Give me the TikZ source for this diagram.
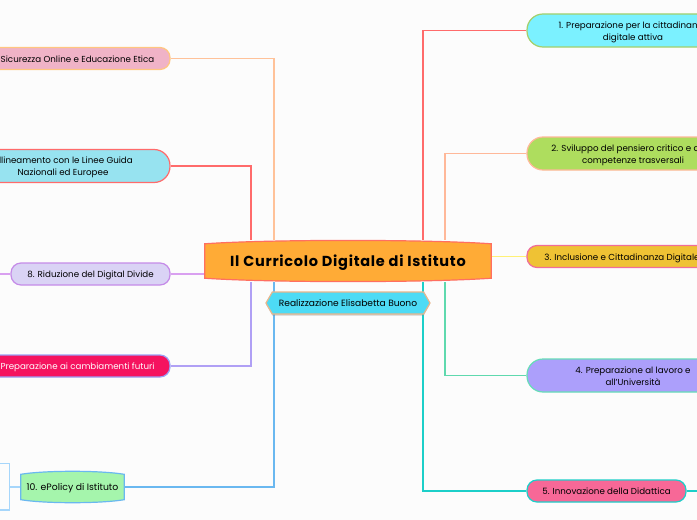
\documentclass[tikz,border=0pt]{standalone}
\usepackage{fontspec}
\setmainfont{Poppins}
\newfontfamily\rootfont[LetterSpace=5]{Poppins}
\usepackage{xcolor}
\usetikzlibrary{positioning, shapes.symbols, shadows, backgrounds}
\tikzstyle{branch} = [rectangle, rounded corners=10pt, minimum height=22pt, text centered, align=center, text height=7pt, text depth=0pt, line width=1.2pt, font=\fontsize{8.7}{12}\selectfont]
\tikzstyle{twoline} = [branch, rounded corners=16pt, minimum height=33pt, text height=19pt]
\tikzstyle{link} = [line width=1.2pt]
\tikzstyle{barrel} = [line width=1.2pt]
\begin{document}
\begin{tikzpicture}[x=1pt, y=1pt, node distance=100pt]
		\coordinate (corner1) at (-348,261);
		\coordinate (corner2) at (349,-259);
		\useasboundingbox (corner1) rectangle (corner2);
		\clip (corner1) rectangle (corner2);
		
		%nodo centrale
		\node (root) [minimum width=286pt, minimum height=41pt, text height=12pt, text depth=2pt, font=\fontsize{14.5}{16}\rootfont\bfseries] {Il Curricolo Digitale di Istituto};
		\node (credit) [signal, signal to=west and east, signal pointer angle=120, draw={rgb,255:red,232;green,182;blue,140}, line width=1.2pt, fill={rgb,255:red,77;green,219;blue,245}, drop shadow={shadow xshift=0pt, shadow yshift=-1.5pt, opacity=0.35}, minimum height=22pt, minimum width=164pt, inner xsep=2pt, inner ysep=0pt, text height=7pt, text depth=0pt, font=\fontsize{9.1}{10}\selectfont, below of=root, node distance=42pt] {Realizzazione Elisabetta Buono};
		
		%rami a destra
		\node (cit) [twoline, draw={rgb,255:red,164;green,207;blue,107}, fill={rgb,255:red,123;green,241;blue,255}, minimum width=212pt, right of=root, node distance=285pt, yshift=230.5pt] {1. Preparazione per la cittadinanza\\digitale attiva};
		\node (crit) [twoline, draw={rgb,255:red,255;green,184;blue,153}, fill={rgb,255:red,174;green,221;blue,94}, minimum width=212pt, below of=cit, node distance=123pt] {2. Sviluppo del pensiero critico e delle\\competenze trasversali};
		\node (incl) [branch, draw={rgb,255:red,240;green,109;blue,154}, fill={rgb,255:red,239;green,194;blue,52}, minimum width=190pt, right of=root, node distance=274pt, yshift=4.5pt] {3. Inclusione e Cittadinanza Digitale};
		\node (job) [twoline, draw={rgb,255:red,102;green,221;blue,184}, fill={rgb,255:red,172;green,159;blue,251}, minimum width=212pt, below of=crit, node distance=222pt] {4. Preparazione al lavoro e\\all'Università};
		\node (inno) [branch, draw={rgb,255:red,28;green,207;blue,201}, fill={rgb,255:red,247;green,104;blue,151}, minimum width=159pt, right of=root, node distance=258.5pt, yshift=-230pt] {5. Innovazione della Didattica};
		
		%rami a sinistra
		\node (safe) [branch, draw={rgb,255:red,255;green,198;blue,128}, fill={rgb,255:red,240;green,179;blue,199}, minimum width=185pt, left of=root, node distance=270.5pt, yshift=202.5pt] {Sicurezza Online e Educazione Etica};
		\node (guide) [twoline, draw={rgb,255:red,255;green,107;blue,107}, fill={rgb,255:red,151;green,227;blue,240}, minimum width=214pt, left of=root, node distance=285pt, yshift=95pt] {Allineamento con le Linee Guida\\Nazionali ed Europee};
		\node (divide) [branch, draw={rgb,255:red,197;green,139;blue,232}, fill={rgb,255:red,218;green,211;blue,245}, minimum width=159pt, left of=root, node distance=257.5pt, yshift=-13pt] {8. Riduzione del Digital Divide};
		\node (change) [branch, text=white, draw={rgb,255:red,154;green,160;blue,245}, fill={rgb,255:red,245;green,19;blue,95}, minimum width=185pt, left of=root, node distance=270.5pt, yshift=-105pt] {Preparazione ai cambiamenti futuri};
		\node (policy) [minimum width=103pt, minimum height=31pt, inner sep=0pt, text height=7pt, text depth=0pt, font=\fontsize{9.3}{10}\selectfont, left of=root, node distance=275.5pt, yshift=-226pt] {10. ePolicy di Istituto};
		
		%estremi liberi
		\coordinate (inno1) at ([xshift=10.5pt]inno.east);
		\coordinate (divide1) at ([xshift=-11pt]divide.west);
		\coordinate (policy1) at ([xshift=-11pt]policy.west);
		
		\begin{scope}[on background layer]
		\fill[white!99!black] (corner1) rectangle (corner2);
		%connettori
		\draw [link, color={rgb,255:red,255;green,107;blue,107}](cit.west) -| ([xshift=75pt]root.north);
		\draw [link, color={rgb,255:red,255;green,184;blue,153}](crit.west) -| ([xshift=97pt]root.north);
		\draw [link, color={rgb,255:red,255;green,241;blue,118}](incl.west) -- (root.east |- incl.west);
		\draw [link, color={rgb,255:red,95;green,217;blue,174}](job.west) -| ([xshift=97pt]root.south);
		\draw [link, color={rgb,255:red,28;green,207;blue,201}](inno.west) -| ([xshift=75pt]root.south);
		\draw [link, color={rgb,255:red,255;green,194;blue,153}](safe.east) -| ([xshift=-74pt]root.north);
		\draw [link, color={rgb,255:red,255;green,107;blue,107}](guide.east) -| ([xshift=-97pt]root.north);
		\draw [link, color={rgb,255:red,217;green,160;blue,240}](divide.east) -- (root.west |- divide.east);
		\draw [link, color={rgb,255:red,176;green,160;blue,245}](change.east) -| ([xshift=-97pt]root.south);
		\draw [link, color={rgb,255:red,106;green,184;blue,240}](policy.east) -| ([xshift=-74pt]root.south);
		%rami tagliati dal bordo
		\draw [link, color={rgb,255:red,28;green,207;blue,201}](inno.east) -- (inno1);
		\draw [link, color={rgb,255:red,28;green,207;blue,201}]([yshift=41pt]inno1) -- ([yshift=-40pt]inno1);
		\draw [link, color={rgb,255:red,217;green,160;blue,240}](divide.west) -- (divide1);
		\draw [link, color={rgb,255:red,217;green,160;blue,240}]([yshift=20pt]divide1) -- ([yshift=-20pt]divide1);
		\draw [link, color={rgb,255:red,166;green,214;blue,251}](policy.west) -- (policy1);
		\draw [link, color={rgb,255:red,166;green,214;blue,251}]([xshift=-12pt, yshift=23.5pt]policy1) -- ([yshift=23.5pt]policy1) -- ([yshift=-23pt]policy1) -- ([xshift=-12pt, yshift=-23pt]policy1);
		%forme a botte
		\draw [barrel, draw={rgb,255:red,255;green,111;blue,97}, fill={rgb,255:red,255;green,171;blue,54}] ([yshift=-3.5pt]root.north west) .. controls ([xshift=-80pt, yshift=1pt]root.north) and ([xshift=80pt, yshift=1pt]root.north) .. ([yshift=-3.5pt]root.north east) -- ([yshift=3.5pt]root.south east) .. controls ([xshift=80pt, yshift=-1pt]root.south) and ([xshift=-80pt, yshift=-1pt]root.south) .. ([yshift=3.5pt]root.south west) -- cycle;
		\draw [barrel, draw={rgb,255:red,106;green,184;blue,240}, fill={rgb,255:red,165;green,245;blue,172}] ([yshift=-3pt]policy.north west) .. controls ([xshift=-28pt, yshift=1pt]policy.north) and ([xshift=28pt, yshift=1pt]policy.north) .. ([yshift=-3pt]policy.north east) -- ([yshift=3pt]policy.south east) .. controls ([xshift=28pt, yshift=-1pt]policy.south) and ([xshift=-28pt, yshift=-1pt]policy.south) .. ([yshift=3pt]policy.south west) -- cycle;
		\end{scope}
		
	\end{tikzpicture}
\end{document}
